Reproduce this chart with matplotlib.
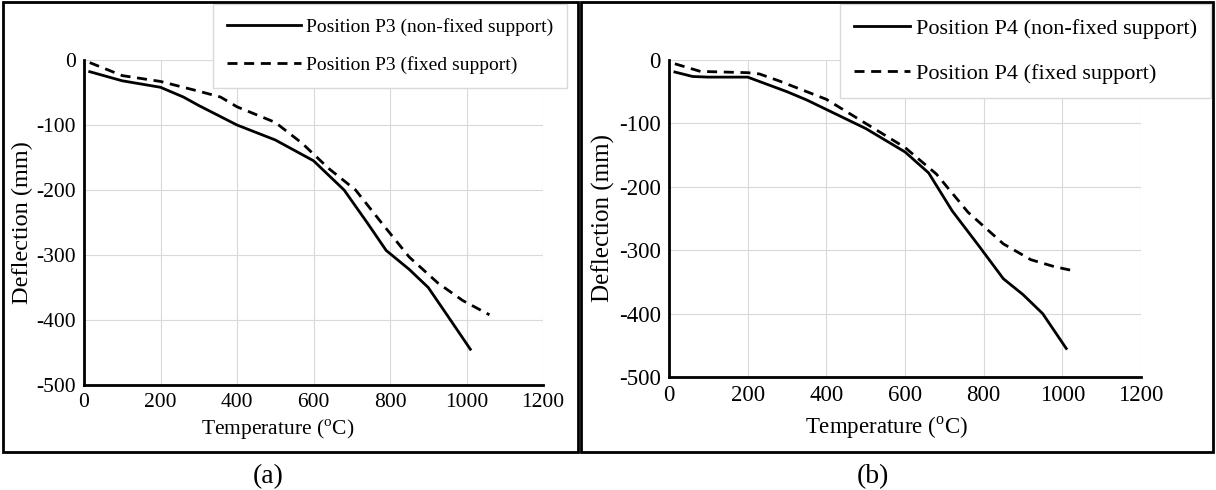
import matplotlib.pyplot as plt
from matplotlib.patches import Rectangle

plt.rcParams['font.family'] = ['Liberation Serif', 'DejaVu Serif']
plt.rcParams['mathtext.fontset'] = 'custom'
plt.rcParams['mathtext.rm'] = 'Liberation Serif'
plt.rcParams['axes.unicode_minus'] = False

# data
# (a) position P3
p3_free_t = [15, 100, 200, 260, 300, 400, 500, 600, 680, 740, 790, 850, 900, 950, 1010]
p3_free_d = [-18, -32, -42, -57, -70, -100, -123, -155, -200, -250, -293, -322, -350, -393, -445]
p3_fixed_t = [15, 100, 200, 300, 357, 400, 500, 570, 640, 710, 780, 850, 925, 990, 1060]
p3_fixed_d = [-4, -24, -33, -48, -57, -72, -96, -128, -167, -200, -252, -303, -343, -370, -392]

# (b) position P4
p4_free_t = [15, 60, 100, 200, 300, 350, 400, 500, 600, 660, 720, 790, 850, 900, 950, 1010]
p4_free_d = [-19, -26, -27, -27, -50, -63, -78, -108, -145, -178, -238, -295, -345, -370, -400, -455]
p4_fixed_t = [15, 80, 200, 230, 280, 400, 500, 600, 680, 760, 850, 920, 980, 1025]
p4_fixed_d = [-6, -18, -20, -22, -33, -62, -100, -138, -180, -240, -290, -315, -326, -332]

xticks = [0, 200, 400, 600, 800, 1000, 1200]
yticks = [0, -100, -200, -300, -400, -500]

W, H = 1216, 490
fig = plt.figure(figsize=(W / 100, H / 100), dpi=100)

# panel frames
for (x0, y0, x1, y1) in [(3, 2, 578, 452), (581, 2, 1213, 452)]:
    fig.add_artist(Rectangle((x0 / W, 1 - y1 / H), (x1 - x0) / W, (y1 - y0) / H,
                             transform=fig.transFigure, fill=False,
                             edgecolor='black', linewidth=2))


def make_panel(box, t1, d1, t2, d2, names, fs, lfs, yfs, legbox, handlelen, lspace, bpad,
               ylab_x, xlab_xy):
    left, top, right, bottom = box
    ax = fig.add_axes([left / W, 1 - bottom / H, (right - left) / W, (bottom - top) / H])
    ax.plot(t1, d1, color='black', lw=2, label=names[0], clip_on=False)
    ax.plot(t2, d2, color='black', lw=2, ls=(0, (3.6, 2.4)), label=names[1], clip_on=False)
    ax.set_xlim(0, 1200)
    ax.set_ylim(-500, 0)
    ax.set_xticks(xticks)
    ax.set_yticks(yticks)
    ax.grid(True, color='#d9d9d9', lw=0.8)
    ax.set_axisbelow(True)
    for s in ['top', 'right']:
        ax.spines[s].set_visible(False)
    for s in ['left', 'bottom']:
        ax.spines[s].set_linewidth(2)
    ax.tick_params(length=0, labelsize=fs, pad=6)
    ax.set_ylabel('Deflection (mm)', fontsize=yfs)
    ax.yaxis.label.set_verticalalignment('center')
    ax.yaxis.set_label_coords((ylab_x - left) / (right - left), 0.5)
    ax.set_xlabel(r'Temperature ($^{\rm o}$C)', fontsize=fs)
    ax.xaxis.label.set_verticalalignment('center')
    ax.xaxis.set_label_coords((xlab_xy[0] - left) / (right - left),
                              (bottom - xlab_xy[1]) / (bottom - top))
    lx, ly = legbox
    leg = ax.legend(loc='upper left', bbox_to_anchor=(lx / W, 1 - ly / H),
                    bbox_transform=fig.transFigure, fontsize=lfs, frameon=True,
                    fancybox=False, edgecolor='#d9d9d9', framealpha=1,
                    handlelength=handlelen, handletextpad=0.25,
                    labelspacing=lspace, borderpad=bpad, borderaxespad=0)
    leg.get_frame().set_linewidth(1)
    return ax


make_panel((84, 60, 543, 385), p3_free_t, p3_free_d, p3_fixed_t, p3_fixed_d,
           ['Position P3 (non-fixed support)', 'Position P3 (fixed support)'],
           15.5, 14, 17.5, (213, 4), 3.85, 1.06, 0.7, 22, (278, 430))
make_panel((669, 60, 1141, 377), p4_free_t, p4_free_d, p4_fixed_t, p4_fixed_d,
           ['Position P4 (non-fixed support)', 'Position P4 (fixed support)'],
           16.5, 16, 18, (840, 4), 2.5, 1.1, 0.65, 603, (886, 428))

fig.text(268 / W, 1 - 477 / H, '(a)', ha='center', va='center', fontsize=20)
fig.text(873 / W, 1 - 477 / H, '(b)', ha='center', va='center', fontsize=20)

fig.savefig('out.png', dpi=100)
